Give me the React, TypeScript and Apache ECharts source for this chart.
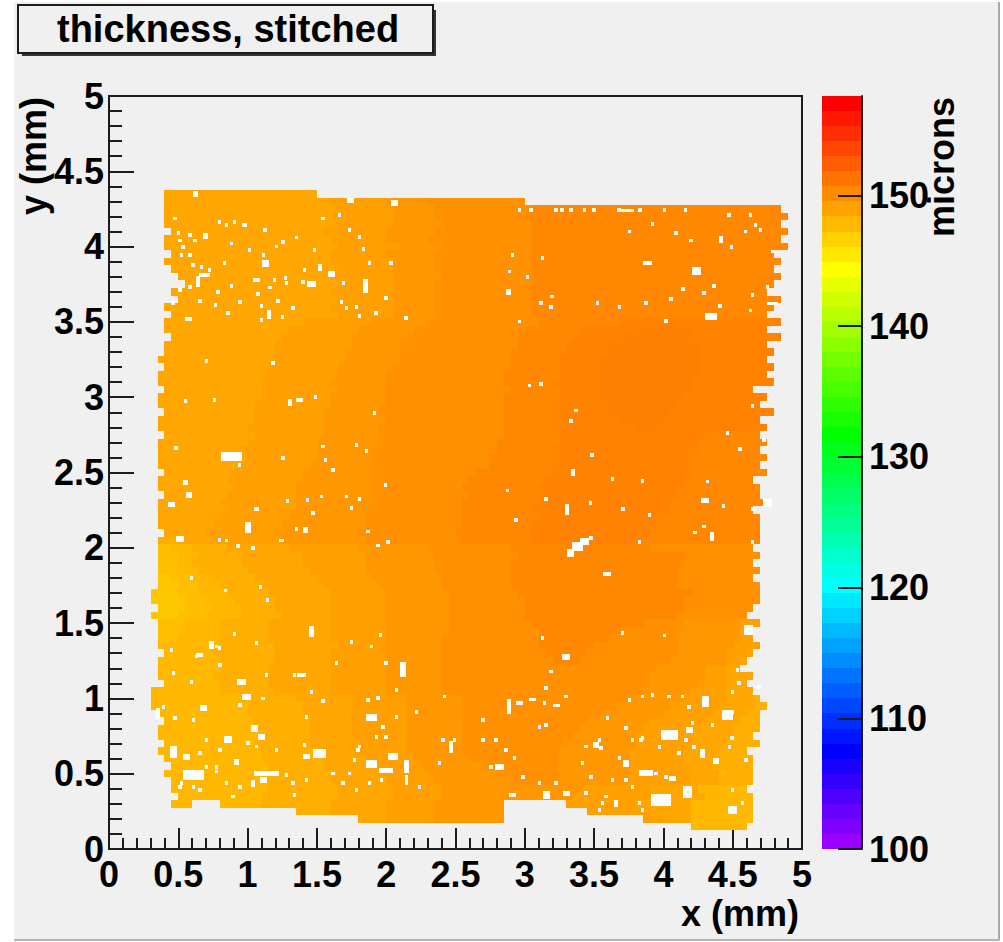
import React, { useEffect, useRef } from "react";
import * as echarts from "echarts";

const titleText = "thickness, stitched";
const xAxisName = "x (mm)";
const yAxisName = "y (mm)";
const barName = "microns";
const barMin = 100;
const barMax = 157.6;
const barTicks = [100, 110, 120, 130, 140, 150];

// ROOT rainbow palette, 50 levels, bottom to top
const palette = [
  "#9900ff", "#8000ff", "#6600ff", "#4d00ff", "#3300ff", "#1a00ff", "#0000ff",
  "#0017ff", "#002eff", "#0046ff", "#005dff", "#0074ff", "#008bff", "#00a2ff", "#00b9ff", "#00d1ff", "#00e8ff", "#00ffff",
  "#00ffe6", "#00ffcc", "#00ffb3", "#00ff99", "#00ff80", "#00ff66", "#00ff4d", "#00ff33", "#00ff1a", "#00ff00",
  "#17ff00", "#2eff00", "#46ff00", "#5dff00", "#74ff00", "#8bff00", "#a2ff00", "#b9ff00", "#d1ff00", "#e8ff00", "#ffff00",
  "#ffe800", "#ffd100", "#ffb900", "#ffa200", "#ff8b00", "#ff7400", "#ff5d00", "#ff4600", "#ff2e00", "#ff1700", "#ff0000",
];

// thickness, microns per letter
const levels: Record<string, number> = {
  a: 147.5, b: 147.9, c: 148.3, d: 148.7, e: 149.1, f: 149.5, g: 149.9, h: 150.3, i: 150.7, j: 150.95, k: 151.15,
};

const cellSize = 0.05;
const firstColumnX = 0.3;
const firstRowY = 4.35;

// one row per 0.05 mm from the top: run-length text, "_" means no data
const rows = [
  "_2e22",
  "_2e24f8g6h14",
  "_2e25f8g6h14i36",
  "_2e24f9g6h13i38",
  "_2e25f8g7h13i36",
  "_3e22f9g7h14i37",
  "_2e24f8g6h15i36",
  "_2e25f9g6h13i37",
  "_3e23f8g7h14i35",
  "_2e24f9g6h14i36",
  "_3e24f8g6h14i35",
  "_4e22f9g7h13i36",
  "_5e22f8g6h14i35",
  "_3e23f9g6h14i34",
  "_4e23f8g6h14i36",
  "_2e24f9g6h14i35",
  "_3e24f8g6h14i34",
  "_2e20f10g8h16i12j23",
  "_2e18f10g8h16i8j8k8j11",
  "_3e16f10g8h16i8j7k10j13",
  "_2e16f11g7h17i7j6k13j10",
  "_2e16f10g8h16i8j6k13j11",
  "_1e17f10g8h16i7j6k14j10",
  "_2e15f10g8h17i7j6k14j11",
  "_1e16f10g7h17i8j6k14j10",
  "_1e15f10g8h17i7j7k13j12",
  "_2e14f11g7h18i7j6k13j9",
  "_1e15f10g8h17i8j6k12j12",
  "_1e14f11g8h17i7j8k10j12",
  "_2e13f10g8h18i7j8k9j15",
  "_1e14f10g9h17i7j10k6j14",
  "_1e13f11g8h18i7j12k3j16",
  "_2e13f10g8h18i8j22i7",
  "_1e13f10g9h17i9j20i10",
  "_1e12f11g8h18i8j21i9",
  "_1e13f10g8h17i9j20i11",
  "_1e12f10g9h17i9j20i10",
  "_2e10f10g10h15i11j20i11",
  "_1e10f11g10h14i11j20i10",
  "_1e11f9g11h13i11j21i11",
  "_2e9f10g11h14i10j20i12",
  "_1e9f11g11h13i11j19i14",
  "_1e10f10g10h14i10j20i12",
  "_1e9f10g11h14i11j18i14",
  "_1e8f10g12h14i10j18i15",
  "_2e6f10g12h14i11j17i16",
  "_1d3e5f10g12h14i10j16i17",
  "_1b2c3d5e9f10g10h12i20h15",
  "_1b3c3d6e9f9g10h12i24h11",
  "_1b3c2d7e9f9g10h11i25h10",
  "_1b4c2d7e9f8g10h11i24h12",
  "_1a2b3c3d6e9f8g10h10i24h11",
  "_1a3b3c3d6e9f8g9h10i24h12",
  "a4b3c4d6e9f8g9h10i25h10",
  "a5b3c4d6e8f8g9h11i23h11",
  "_1a4b4c4d5e8f8g9h11i23h10",
  "a4b4c5d6e7f8g9h11i22h10",
  "_1b4c5d7e9f8g9h12i16h6g8f3",
  "_1b4c5d7e9f8g9h13i12h9g8f2",
  "_1b3c6d7e9f8g8h14i10h10g9f2",
  "_1c9d8e9f7g8h14i8h12g8f4",
  "_2c7d9e8f8g8h15i6h13g7f3e1",
  "_1c9d8e8f8g8h16i4h13g8f2e1",
  "_1c9d7e9f8g8h31g7f3e2",
  "_1c8d8e9f8g8h30g8f3e4",
  "_2c8d7e9f8g8h30g7f4e3",
  "c10d8e8f8g8h29g7f5e4",
  "c13d8e8f8g8h24g8f6e4d1",
  "c14d8e7f8g8h22g8f7e5d2",
  "_1c13d8e7f8g8h20g9f7e5d2",
  "_2c13d8e6f8g8h18g9f8e5d3",
  "_1c14d8e6f8g8h17g9f8e5d4",
  "_1c15d7e6f8g8h16g9f8e6d3",
  "_2c13d8e7f7g8h15g10f8e5d5",
  "_1c15d8e6f7g8h14g10f8e5d4",
  "_2c14d9e6f7g8h13g10f8e5d5",
  "_3c14d8e7f7g9h11g10f8e4d6",
  "_2c15d9e7f7g10h9g10f9e4c1d4",
  "_3c14d9e8f7g11h7g10f9e4d5",
  "_3c14d10e8f7g20f10e7c7",
  "_4c12d11e8f7g19f12e7c7",
  "_3c3_4c6d10e8f7g10_9f10e8c9",
  "_21d5e8f7g10_12f9e6c9",
  "_30e4f7g10_20f3e4c9",
  "_78c8",
];

// larger white gaps: x, y, width, height in mm
const gaps = [
  [1.743, 4.305, 0.05, 0.03], [2.06, 4.287, 0.05, 0.04], [0.624, 4.349, 0.03, 0.04], [0.979, 4.143, 0.04, 0.025],
  [0.696, 4.072, 0.03, 0.04], [1.131, 3.889, 0.05, 0.05], [0.691, 3.811, 0.08, 0.03], [0.643, 3.767, 0.025, 0.07],
  [1.064, 3.778, 0.05, 0.03], [1.52, 3.862, 0.03, 0.05], [1.604, 3.818, 0.05, 0.04], [1.46, 3.751, 0.06, 0.04],
  [1.851, 3.738, 0.03, 0.09], [1.155, 3.546, 0.025, 0.06], [0.571, 3.517, 0.05, 0.025], [1.304, 2.964, 0.03, 0.05],
  [1.376, 2.981, 0.05, 0.03], [3.742, 4.239, 0.09, 0.025], [3.886, 3.889, 0.07, 0.025], [4.239, 3.838, 0.06, 0.05],
  [2.884, 3.701, 0.04, 0.04], [4.342, 3.535, 0.09, 0.05], [4.786, 3.619, 0.08, 0.02], [4.414, 4.048, 0.025, 0.05],
  [0.883, 2.606, 0.15, 0.06], [0.552, 2.435, 0.04, 0.03], [0.576, 2.351, 0.04, 0.04], [0.451, 2.289, 0.05, 0.03],
  [1.064, 2.258, 0.04, 0.03], [1.004, 2.136, 0.04, 0.07], [0.511, 2.059, 0.06, 0.04], [1.244, 2.048, 0.04, 0.025],
  [1.419, 2.119, 0.04, 0.04], [1.46, 1.444, 0.04, 0.07], [0.739, 1.355, 0.04, 0.05], [3.346, 2.499, 0.03, 0.05],
  [4.301, 2.313, 0.06, 0.03], [4.75, 2.296, 0.06, 0.05], [3.305, 2.256, 0.03, 0.07], [3.43, 2.041, 0.07, 0.05],
  [3.382, 2.008, 0.08, 0.06], [3.333, 1.964, 0.05, 0.05], [3.593, 1.826, 0.06, 0.02], [4.613, 1.455, 0.06, 0.07],
  [3.298, 1.273, 0.06, 0.04], [4.349, 2.074, 0.025, 0.06], [0.956, 1.111, 0.06, 0.04], [1.388, 1.155, 0.06, 0.025],
  [0.656, 1.288, 0.05, 0.03], [0.992, 1.012, 0.06, 0.04], [0.68, 0.934, 0.05, 0.04], [0.356, 0.901, 0.03, 0.07],
  [1.052, 0.801, 0.05, 0.05], [1.1, 0.746, 0.05, 0.04], [0.86, 0.728, 0.06, 0.05], [1.893, 0.874, 0.08, 0.05],
  [2.049, 0.613, 0.07, 0.05], [1.52, 0.635, 0.09, 0.06], [1.424, 0.613, 0.05, 0.03], [1.893, 0.565, 0.08, 0.05],
  [2.0, 0.52, 0.1, 0.03], [0.92, 0.58, 0.04, 0.04], [0.464, 0.647, 0.05, 0.08], [0.56, 0.613, 0.05, 0.04],
  [0.608, 0.492, 0.15, 0.07], [1.136, 0.503, 0.18, 0.03], [1.112, 0.458, 0.05, 0.04], [1.04, 0.436, 0.03, 0.05],
  [2.121, 1.189, 0.04, 0.1], [2.889, 0.945, 0.03, 0.1], [2.961, 0.967, 0.05, 0.025], [3.058, 0.99, 0.05, 0.02],
  [3.226, 0.956, 0.05, 0.02], [4.306, 0.978, 0.05, 0.07], [4.462, 0.89, 0.08, 0.07], [4.042, 0.757, 0.12, 0.07],
  [4.186, 0.79, 0.05, 0.04], [4.282, 0.635, 0.04, 0.06], [4.378, 0.586, 0.04, 0.04], [3.73, 0.569, 0.05, 0.05],
  [3.874, 0.502, 0.1, 0.04], [3.982, 0.326, 0.14, 0.08], [4.174, 0.381, 0.07, 0.08], [4.066, 0.469, 0.05, 0.03],
  [3.514, 0.691, 0.04, 0.04], [2.145, 0.547, 0.04, 0.09], [2.145, 0.458, 0.02, 0.07], [2.469, 0.68, 0.03, 0.08],
  [2.817, 0.547, 0.06, 0.04], [3.154, 0.359, 0.05, 0.05], [3.298, 0.37, 0.05, 0.03], [2.914, 0.359, 0.05, 0.03],
  [3.658, 0.303, 0.03, 0.05], [4.498, 0.259, 0.06, 0.05],
];

// single white bins: x, y in mm
const specks = [
  [1.544, 4.187], [1.664, 4.21], [0.5, 4.088], [0.511, 4.04], [0.535, 3.999], [0.523, 3.944], [0.583, 4.077],
  [0.619, 4.04], [0.884, 4.021], [1.015, 3.977], [1.208, 4.0], [1.484, 3.977], [1.116, 3.944], [0.835, 3.889],
  [0.883, 3.738], [1.412, 3.844], [1.4, 3.767], [1.676, 3.634], [0.944, 3.634], [0.655, 3.641], [0.463, 3.623],
  [0.77, 3.612], [0.859, 3.561], [1.328, 3.59], [1.784, 3.6], [1.712, 3.59], [1.251, 3.535], [1.1, 3.512],
  [1.808, 3.539], [1.928, 3.557], [2.144, 3.528], [1.184, 3.229], [0.703, 3.24], [0.552, 2.977], [0.763, 2.981],
  [1.916, 2.897], [1.489, 2.999], [3.333, 4.243], [4.63, 4.21], [3.922, 4.148], [4.198, 4.04], [4.493, 3.999],
  [2.913, 3.944], [3.129, 3.922], [2.889, 3.834], [3.021, 3.796], [4.143, 3.721], [4.366, 3.739], [4.294, 3.69],
  [3.197, 3.668], [3.117, 3.628], [3.19, 3.601], [4.054, 3.652], [4.407, 3.606], [4.63, 3.575], [2.961, 3.502],
  [4.018, 3.508], [4.642, 3.679], [4.75, 3.734], [4.786, 3.967], [3.033, 3.077], [3.117, 3.086], [3.37, 2.911],
  [3.333, 2.844], [4.642, 2.942], [3.526, 3.623], [3.682, 3.597], [3.874, 3.623], [0.943, 2.55], [0.482, 2.665],
  [1.256, 2.594], [1.544, 2.672], [1.784, 2.683], [1.856, 2.645], [1.563, 2.583], [1.616, 2.517], [1.287, 2.311],
  [1.431, 2.318], [1.532, 2.34], [1.995, 2.417], [1.712, 2.34], [1.808, 2.322], [1.748, 2.265], [1.472, 2.229],
  [0.799, 2.052], [0.847, 2.048], [0.931, 2.012], [1.04, 2.001], [1.352, 2.125], [1.868, 2.108], [2.012, 2.041],
  [1.94, 2.015], [1.143, 1.654], [0.84, 1.716], [0.595, 1.798], [1.092, 1.742], [0.907, 1.428], [0.799, 1.333],
  [0.631, 1.278], [1.064, 1.37], [1.748, 1.377], [1.892, 1.344], [1.957, 1.421], [4.462, 2.76], [4.726, 2.716],
  [4.553, 2.654], [4.318, 2.44], [3.634, 2.455], [3.85, 2.446], [3.485, 2.617], [4.433, 2.278], [3.473, 2.296],
  [3.71, 2.258], [3.898, 2.218], [4.647, 2.258], [2.937, 2.185], [3.478, 2.063], [3.826, 2.037], [4.229, 2.101],
  [4.294, 2.141], [4.642, 2.041], [3.129, 1.399], [3.706, 1.432], [4.006, 1.417], [2.877, 2.38], [3.153, 2.324],
  [0.464, 1.167], [0.596, 1.111], [0.776, 1.344], [1.136, 1.155], [1.112, 1.0], [1.46, 1.045], [1.544, 0.983],
  [0.944, 0.956], [1.941, 1.001], [1.797, 0.658], [0.776, 0.547], [1.28, 0.492], [1.34, 0.359], [0.608, 0.414],
  [0.512, 0.414], [2.0, 1.233], [2.073, 1.056], [2.421, 1.012], [3.142, 0.967], [3.298, 1.012], [4.547, 1.1],
  [4.222, 0.679], [4.494, 0.735], [3.946, 0.502], [3.73, 0.458], [3.478, 0.48], [2.925, 0.602], [3.442, 0.37],
  [3.586, 0.348], [3.562, 0.303], [3.826, 0.303], [4.57, 0.303],
  [2.96, 4.243], [3.045, 4.243], [3.225, 4.243], [3.27, 4.243], [3.43, 4.243], [3.5, 4.243], [3.68, 4.243],
  [3.83, 4.243], [4.006, 4.243], [4.16, 4.243], [4.474, 4.21], [4.666, 4.144], [4.702, 4.11], [4.594, 4.1],
  [3.754, 4.1], [4.09, 4.088],
  [0.452, 1.322], [0.8, 1.222], [1.34, 1.155], [1.64, 1.233], [1.869, 0.99], [2.073, 0.879], [1.977, 0.812],
  [2.0, 0.746], [1.929, 0.746], [1.809, 0.68], [1.773, 0.591], [1.737, 0.502], [1.881, 0.436], [1.965, 0.458],
  [1.424, 0.879], [1.412, 0.691], [1.208, 0.658], [1.064, 0.68], [1.004, 0.702], [0.8, 0.658], [0.704, 0.724],
  [0.608, 0.857], [0.476, 0.868], [0.392, 0.945], [0.656, 0.635], [0.704, 0.547], [0.776, 0.514], [0.848, 0.436],
  [0.944, 0.414], [1.328, 0.436], [0.896, 0.348], [0.656, 0.392], [0.524, 0.436], [1.424, 0.458], [1.616, 0.502],
  [1.689, 0.436], [1.785, 0.392],
  [2.409, 0.724], [2.493, 0.724], [2.697, 0.724], [2.793, 0.724], [2.865, 0.658], [2.757, 0.547], [2.385, 0.569],
  [2.241, 0.414], [2.986, 0.48], [3.106, 0.436], [3.226, 0.436], [3.442, 0.68], [3.538, 0.724], [3.55, 0.669],
  [3.418, 0.569], [3.634, 0.458], [3.682, 0.602], [3.778, 0.724], [3.85, 0.735], [3.97, 0.679], [4.114, 0.635],
  [4.162, 0.724], [4.018, 0.48], [3.778, 0.414], [3.85, 0.259], [3.538, 0.259], [4.21, 0.835], [4.354, 0.823],
  [4.475, 0.679], [4.595, 0.591], [4.643, 0.414], [4.498, 0.392], [4.138, 1.012], [4.042, 1.012], [3.922, 1.023],
  [3.85, 1.012], [3.754, 0.99], [4.691, 1.078], [4.535, 1.189], [4.498, 1.045], [4.186, 0.945], [4.498, 0.912],
  [3.154, 1.067], [3.19, 1.178], [3.598, 0.868], [3.73, 0.801], [3.838, 0.724], [3.106, 0.812], [3.154, 0.823],
  [2.697, 0.857], [2.217, 0.912],
  [0.475, 4.187], [0.583, 3.944], [0.607, 3.878], [0.667, 3.866], [0.727, 3.844], [0.799, 4.165], [0.847, 4.143],
  [0.907, 4.165], [1.124, 4.11], [1.256, 4.033], [1.352, 4.061], [1.808, 4.066], [1.736, 4.11], [1.837, 3.984],
  [1.88, 3.893], [2.036, 3.889], [1.693, 3.756], [1.275, 3.789], [1.28, 3.756], [1.196, 3.778], [1.16, 3.729],
  [1.076, 3.685], [2.0, 3.661], [0.511, 3.712], [0.583, 3.734], [0.787, 3.701], [1.22, 3.641], [1.1, 3.605],
];

const ink = "#1c1c1c";
const font = "'Liberation Sans', Arial, sans-serif";

function decodeCells() {
  const out: number[][] = [];
  rows.forEach((row, r) => {
    let col = 0;
    for (const m of row.matchAll(/([a-k_])(\d+)/g)) {
      const n = Number(m[2]);
      if (m[1] !== "_") {
        for (let i = 0; i < n; i++) {
          out.push([firstColumnX + (col + i) * cellSize, firstRowY - r * cellSize, levels[m[1]]]);
        }
      }
      col += n;
    }
  });
  return out;
}

const snap = (v: number) => Math.round(Number(v.toFixed(3)) + 0.001);

function snapRect(api: any, x0: number, y0: number, x1: number, y1: number) {
  const a = api.coord([x0, y1]);
  const b = api.coord([x1, y0]);
  const left = snap(a[0]);
  const top = snap(a[1]);
  return { x: left, y: top, width: Math.max(1, snap(b[0]) - left), height: Math.max(1, snap(b[1]) - top) };
}

function buildOption() {
  const bandHeight = (barMax - barMin) / palette.length;
  const axisCommon = {
    type: "value",
    min: 0,
    max: 5,
    interval: 0.5,
    nameMoveOverlap: false,
    splitLine: { show: false },
    axisLine: { show: true, onZero: false, lineStyle: { color: ink, width: 2 } },
    nameTextStyle: { fontSize: 36, fontWeight: "bold", fontFamily: font, color: "#000" },
  };
  const labelCommon = { fontSize: 36, fontWeight: "bold", fontFamily: font, color: "#000", showMinLabel: true, showMaxLabel: true };
  return {
    animation: false,
    backgroundColor: "#ffffff",
    title: {
      text: titleText,
      left: 18,
      top: 5,
      padding: [5, 34, 5, 39],
      backgroundColor: "#f0f0f0",
      borderColor: ink,
      borderWidth: 2,
      textStyle: { fontSize: 38, fontWeight: "bold", fontFamily: font, color: "#000" },
    },
    graphic: [
      { type: "rect", z: -5, silent: true, shape: { x: 14, y: 2, width: 985, height: 938 }, style: { fill: "#f0f0f0" } },
      { type: "rect", z: -4, silent: true, shape: { x: 998, y: 2, width: 2, height: 939 }, style: { fill: "#a8a8a8" } },
      { type: "rect", z: -4, silent: true, shape: { x: 14, y: 939, width: 986, height: 2 }, style: { fill: "#b4b4b4" } },
      { type: "rect", z: 1, silent: true, shape: { x: 22, y: 10, width: 414, height: 46 }, style: { fill: "#333333" } },
    ],
    grid: [
      { left: 109, top: 96, width: 693, height: 753, show: true, borderColor: ink, borderWidth: 2, backgroundColor: "transparent" },
      { left: 822, top: 96, width: 40, height: 753 },
    ],
    xAxis: [
      {
        ...axisCommon,
        gridIndex: 0,
        axisTick: { show: true, inside: true, length: 21, lineStyle: { color: ink, width: 2 } },
        minorTick: { show: true, splitNumber: 5, length: 11, lineStyle: { color: ink, width: 2 } },
        axisLabel: { ...labelCommon, margin: 7 },
        name: xAxisName,
        nameLocation: "end",
        nameGap: -3,
        nameTextStyle: { ...axisCommon.nameTextStyle, align: "right", verticalAlign: "top", padding: [46, 0, 0, 0] },
      },
      { type: "value", gridIndex: 1, min: 0, max: 1, show: false },
    ],
    yAxis: [
      {
        ...axisCommon,
        gridIndex: 0,
        axisTick: { show: true, inside: true, length: 25, lineStyle: { color: ink, width: 2 } },
        minorTick: { show: true, splitNumber: 5, length: 13, lineStyle: { color: ink, width: 2 } },
        axisLabel: { ...labelCommon, margin: 5 },
        name: yAxisName,
        nameLocation: "end",
        nameRotate: 90,
        nameGap: -1,
        nameTextStyle: { ...axisCommon.nameTextStyle, align: "right", verticalAlign: "bottom", padding: [0, 0, 58, 0] },
      },
      {
        type: "value",
        gridIndex: 1,
        position: "right",
        z: 6,
        min: barMin,
        max: barMax,
        interval: 10,
        nameMoveOverlap: false,
        splitLine: { show: false },
        axisLine: { show: true, onZero: false, lineStyle: { color: ink, width: 2 } },
        axisTick: { show: true, inside: true, length: 24, customValues: barTicks, lineStyle: { color: ink, width: 2 } },
        axisLabel: { ...labelCommon, margin: 7, customValues: barTicks },
        name: barName,
        nameLocation: "end",
        nameRotate: 90,
        nameGap: -1,
        nameTextStyle: { ...axisCommon.nameTextStyle, align: "right", verticalAlign: "top", padding: [61, 0, 0, 0] },
      },
    ],
    visualMap: {
      show: false,
      type: "continuous",
      seriesIndex: 0,
      dimension: 2,
      min: barMin,
      max: barMax,
      inRange: { color: palette },
    },
    series: [
      {
        type: "custom",
        xAxisIndex: 0,
        yAxisIndex: 0,
        z: 2,
        silent: true,
        progressive: 0,
        clip: true,
        data: decodeCells(),
        renderItem: (_p: any, api: any) => {
          const x = api.value(0);
          const y = api.value(1);
          return {
            type: "rect",
            shape: snapRect(api, x, y - cellSize / 2, x + cellSize, y + cellSize / 2),
            style: { fill: api.visual("color") },
          };
        },
      },
      {
        type: "custom",
        xAxisIndex: 0,
        yAxisIndex: 0,
        z: 3,
        silent: true,
        progressive: 0,
        data: gaps,
        renderItem: (_p: any, api: any) => {
          const x = api.value(0);
          const y = api.value(1);
          const w = api.value(2) / 2;
          const h = api.value(3) / 2;
          return { type: "rect", shape: snapRect(api, x - w, y - h, x + w, y + h), style: { fill: "#ffffff" } };
        },
      },
      {
        type: "custom",
        xAxisIndex: 0,
        yAxisIndex: 0,
        z: 3,
        silent: true,
        progressive: 0,
        data: specks,
        renderItem: (_p: any, api: any) => {
          const x = api.value(0);
          const y = api.value(1);
          return { type: "rect", shape: snapRect(api, x - 0.0125, y - 0.0125, x + 0.0125, y + 0.0125), style: { fill: "#ffffff" } };
        },
      },
      {
        type: "custom",
        xAxisIndex: 1,
        yAxisIndex: 1,
        z: 2,
        silent: true,
        data: palette.map((_c, i) => [0, barMin + i * bandHeight, i]),
        renderItem: (_p: any, api: any) => {
          const low = api.value(1);
          return {
            type: "rect",
            shape: snapRect(api, 0, low, 1, low + bandHeight),
            style: { fill: palette[api.value(2)] },
          };
        },
      },
    ],
  };
}

export default function App() {
  const ref = useRef<HTMLDivElement>(null);
  useEffect(() => {
    document.body.style.margin = "0";
    const chart = echarts.init(ref.current!, undefined, { renderer: "svg" });
    chart.setOption(buildOption() as any);
    return () => chart.dispose();
  }, []);
  return <div ref={ref} style={{ width: 1003, height: 942 }} />;
}
